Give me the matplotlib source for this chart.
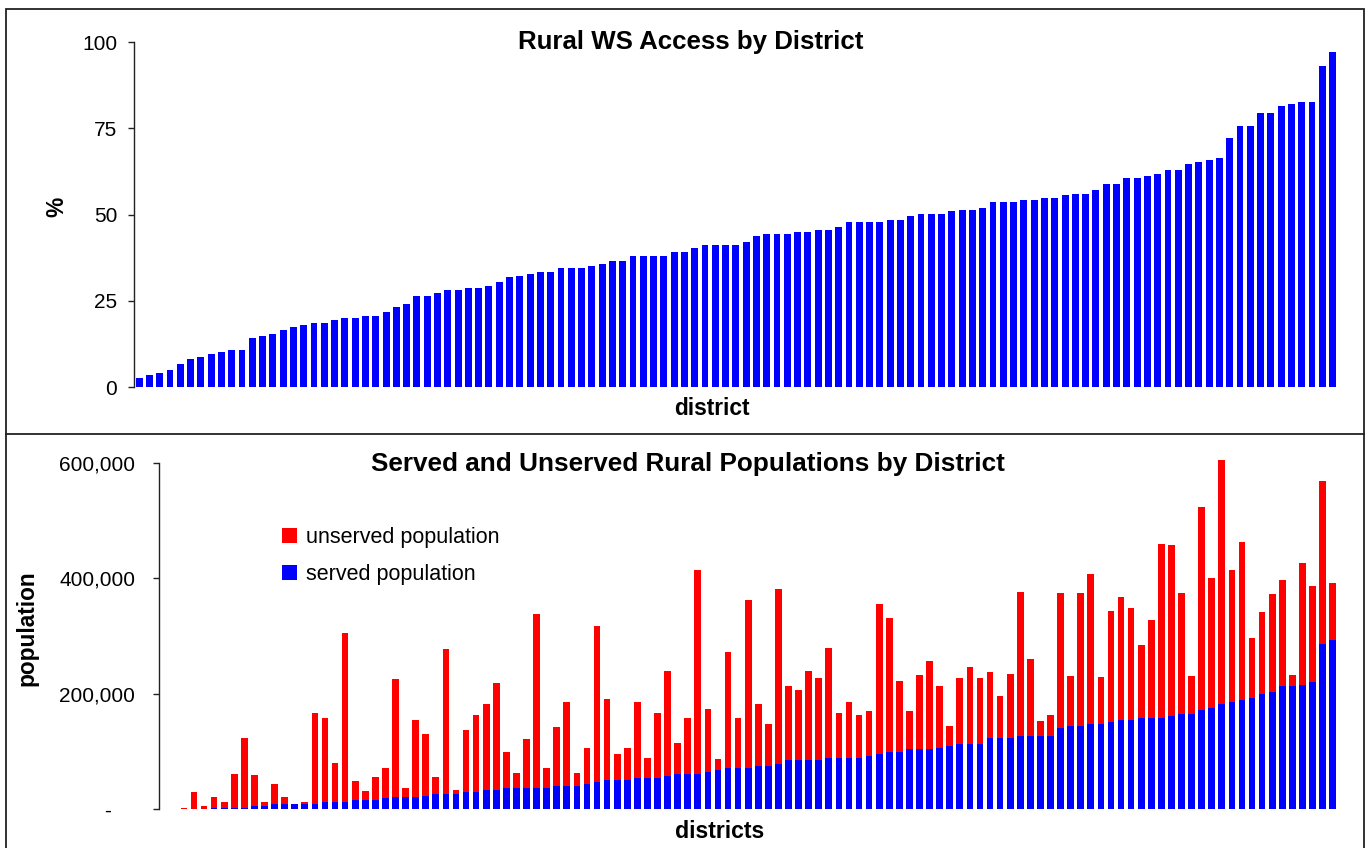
import numpy as np
import matplotlib
matplotlib.use("Agg")
import matplotlib.pyplot as plt
from matplotlib.patches import Rectangle
from matplotlib.lines import Line2D
from matplotlib.ticker import FuncFormatter

plt.rcParams['font.family'] = ['Liberation Sans', 'DejaVu Sans']

# % of rural population with water supply access, sorted
access_pct = [2.7, 3.6, 4.1, 5.0, 6.8, 8.2, 8.8, 9.7, 10.3, 10.8, 10.8, 14.3, 14.9, 15.4, 16.6, 17.5,
              18.1, 18.7, 18.7, 19.5, 20.1, 20.1, 20.7, 20.7, 21.8, 23.3, 24.1, 26.5, 26.5, 27.3, 28.2,
              28.2, 28.8, 28.8, 29.4, 30.5, 31.8, 32.3, 32.8,
              33.4, 33.4, 34.6, 34.6, 34.6, 35.2, 35.7, 36.6, 36.6, 38.0, 38.0, 38.0, 38.0, 39.2, 39.2,
              40.4, 41.2, 41.2, 41.2, 41.2, 42.1, 43.8, 44.4, 44.4, 44.4, 45.0, 45.0, 45.6, 45.6, 46.4,
              47.9, 47.9, 47.9, 47.9, 48.5, 48.5, 49.7, 50.2, 50.2, 50.2, 51.1,
              51.4, 51.4, 52.0, 53.7, 53.7, 53.7, 54.3, 54.3, 54.8, 54.8, 55.7, 56.0, 56.0, 57.2, 58.9,
              58.9, 60.7, 60.7, 61.3, 61.8, 63.0, 63.0, 64.7, 65.3, 65.9, 66.4, 72.2, 75.7, 75.7, 79.5,
              79.5, 81.5, 82.1, 82.7, 82.7, 93.1, 97.2]

# served rural population per district (sorted ascending)
served_pop = [0, 0, 0, 0, 0, 2200, 2200, 2200, 2200, 5700, 5700, 9000, 9000, 9000, 9000, 9000,
              12700, 12700, 12700, 16000, 16000, 16000, 19500, 20500, 20500, 20500, 23000, 26500,
              26500, 26500, 30000, 30000, 33000, 33000, 37000, 37000, 37000, 37000, 37000, 40000,
              40000, 40000, 43000, 47000, 50000, 50000, 50000, 54000, 54000, 54000, 57000, 61000,
              61000, 61000, 64000, 68000, 71000, 71000, 71000, 75000, 75000, 78000, 85000, 85000,
              85000, 85000, 89000, 89000, 89000, 89000, 92000, 96000, 99000, 99000, 104000, 104000,
              104000, 106000, 109000, 113000, 113000, 113000, 123000, 123000, 123000, 127000, 127000,
              127000, 127000, 140000, 144000, 144000, 148000, 148000, 151000, 154000, 154000, 158000,
              158000, 158000, 161000, 165000, 165000, 172000, 175000, 182000, 185000, 189000, 192000,
              199000, 203000, 213000, 213000, 216000, 220000, 286000, 293000]

# total rural population per district (top of each stacked bar)
total_pop = [0, 0, 2000, 30000, 5600, 21000, 12700, 61000, 123000, 59000, 12700, 44000, 21000, 9000,
             12700, 166000, 158000, 80000, 305000, 49000, 32000, 56000, 71000, 225000, 37000, 155000,
             130000, 56000, 277000, 33000, 138000, 163000, 182000, 218000, 99000, 63000, 121000,
             339000, 71000, 142000, 185000,
             63000, 107000, 317000, 191000, 96000, 107000, 185000, 89000, 166000, 240000, 115000,
             158000, 414000, 173000, 87000, 272000, 158000, 363000, 182000, 147000, 382000, 213000,
             206000, 240000, 227000, 280000, 166000, 185000, 163000, 170000, 355000, 332000, 222000,
             170000, 232000, 256000, 213000, 144000, 227000,
             246000, 227000, 237000, 197000, 235000, 377000, 260000, 153000, 163000, 375000, 230000,
             375000, 407000, 229000, 343000, 367000, 349000, 284000, 327000, 460000, 458000, 375000,
             230000, 524000, 400000, 605000, 414000, 462000, 296000, 341000, 372000, 397000, 232000,
             427000, 386000, 569000, 391000]

served = np.array(served_pop)
unserved = np.array(total_pop) - served

W, H = 1369, 848
fig = plt.figure(figsize=(W / 100, H / 100), dpi=100)

# ---- top panel ----
ax1 = fig.add_axes([134 / W, 1 - 387.3 / H, (1337.7 - 134) / W, 345.3 / H])
x1 = np.arange(len(access_pct))
ax1.bar(x1, access_pct, width=0.67, color='#0000FF')
ax1.set_xlim(-0.5, len(access_pct) - 0.5)
ax1.set_ylim(0, 100)
ax1.set_yticks([0, 25, 50, 75, 100])
ax1.set_xticks([])

# ---- bottom panel ----
ax2 = fig.add_axes([158.7 / W, 1 - 809.3 / H, (1337.7 - 158.7) / W, 346.5 / H])
x2 = np.arange(len(served))
ax2.bar(x2, served, width=0.67, color='#0000FF', label='served population', clip_on=False)
ax2.bar(x2, unserved, bottom=served, width=0.67, color='#FF0000', label='unserved population',
        clip_on=False)
ax2.set_xlim(-0.5, len(served) - 0.5)
ax2.set_ylim(0, 600000)
ax2.set_yticks([0, 200000, 400000, 600000])
ax2.yaxis.set_major_formatter(FuncFormatter(lambda v, p: '-    ' if v == 0 else '{:,.0f}'.format(v)))
ax2.set_xticks([])

for ax, pad in ((ax1, 8), (ax2, 13)):
    for s in ('top', 'right', 'bottom'):
        ax.spines[s].set_visible(False)
    ax.spines['left'].set_linewidth(1.0)
    ax.spines['left'].set_color('#222222')
    ax.tick_params(axis='y', direction='out', length=4, width=1.0, color='#222222',
                   labelsize=15, pad=pad)
    ax.patch.set_alpha(0)

# legend (order: unserved first)
h, l = ax2.get_legend_handles_labels()
ax2.legend(h[::-1], l[::-1], loc='upper left', bbox_to_anchor=(115 / (1337.7 - 158.7), 1 - 56 / 346.5),
           frameon=False, fontsize=15.5, handlelength=0.7, handleheight=0.7, handletextpad=0.4,
           labelspacing=0.72, borderaxespad=0)

# titles and axis labels
fig.text(691 / W, 1 - 42 / H, 'Rural WS Access by District', ha='center', va='center',
         fontsize=18.6, fontweight='bold')
fig.text(688 / W, 1 - 464 / H, 'Served and Unserved Rural Populations by District', ha='center',
         va='center', fontsize=18.8, fontweight='bold')
fig.text(712 / W, 1 - 409 / H, 'district', ha='center', va='center', fontsize=16.4, fontweight='bold')
fig.text(720 / W, 1 - 831 / H, 'districts', ha='center', va='center', fontsize=16.6, fontweight='bold')
fig.text(57 / W, 1 - 207 / H, '%', ha='center', va='center', fontsize=16.4, fontweight='bold',
         rotation=90)
fig.text(27 / W, 1 - 628 / H, 'population', ha='center', va='center', fontsize=16.3,
         fontweight='bold', rotation=90)

# outer frames
fig.add_artist(Rectangle((6 / W, -0.05), (1364 - 6) / W, 1.05 - 9 / H, transform=fig.transFigure,
                         fill=False, edgecolor='#222222', linewidth=1.3))
fig.add_artist(Line2D([6 / W, 1364 / W], [1 - 434 / H, 1 - 434 / H], transform=fig.transFigure,
                      color='#222222', linewidth=1.3))

fig.savefig('out.png', dpi=100)
